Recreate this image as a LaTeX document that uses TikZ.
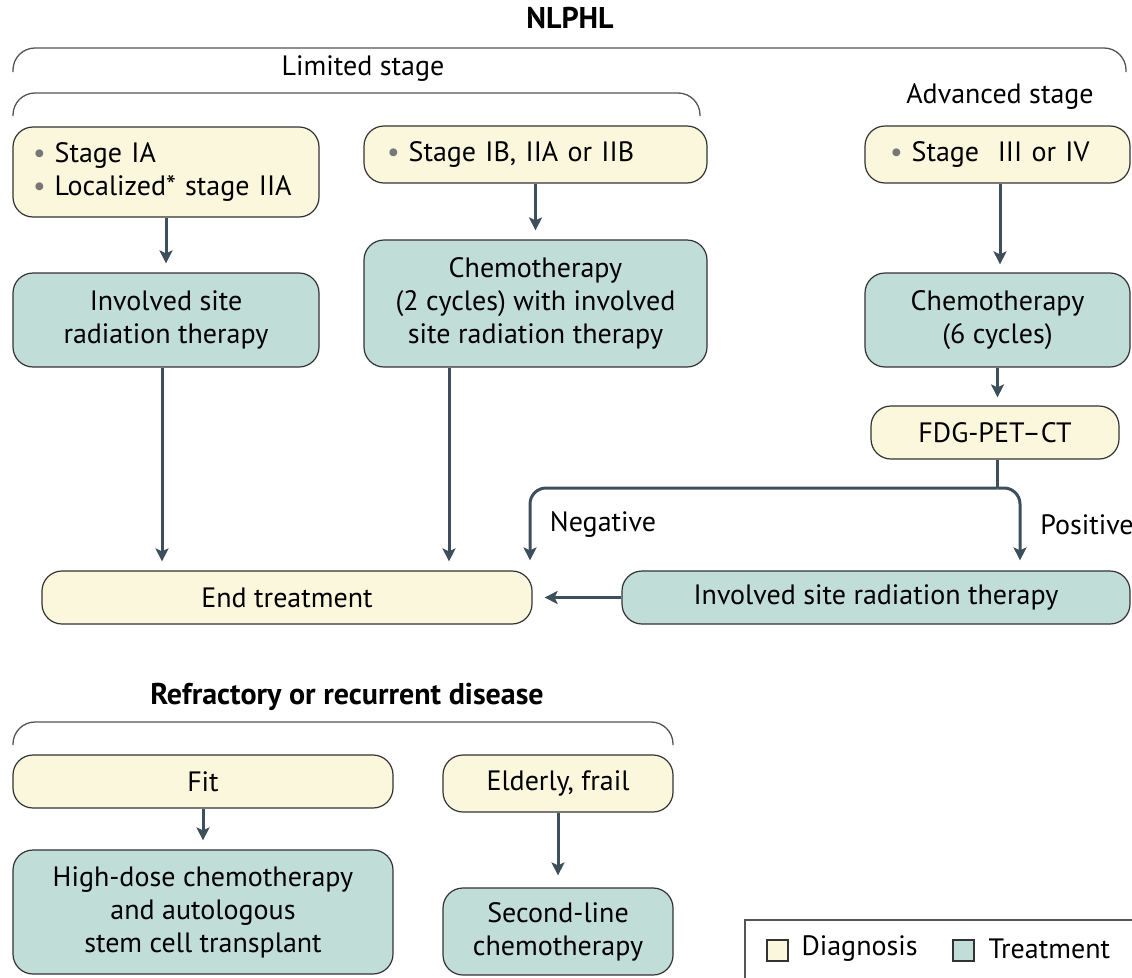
\documentclass[tikz,border=0pt]{standalone}
\usepackage{fontspec}
\setmainfont{PT Sans}
\usetikzlibrary{arrows.meta,calc}
\definecolor{diagfill}{HTML}{FAF7DC}
\definecolor{treatfill}{HTML}{C0DDD8}
\definecolor{boxline}{HTML}{333333}
\definecolor{arrowcol}{HTML}{3D4F5B}
\definecolor{bracecol}{HTML}{555555}
\definecolor{dotcol}{HTML}{777777}
\newcommand{\bul}{{\color{dotcol}\textbullet}\hspace{9pt}}
\begin{document}
\begin{tikzpicture}[x=1pt,y=-1pt,
  every node/.style={font=\fontsize{28}{33}\selectfont, text=black},
  box/.style={draw=boxline, line width=1.2pt, rounded corners=20pt, align=center, inner sep=0pt},
  diag/.style={box, fill=diagfill},
  treat/.style={box, fill=treatfill},
  conn/.style={draw=arrowcol, line width=3pt},
  arr/.style={conn, -{Stealth[length=13pt,width=13pt,inset=3pt]}},
  brace/.style={draw=bracecol, line width=1.3pt, rounded corners=22pt},
  heading/.style={font=\fontsize{30}{33}\selectfont\bfseries},
  legsq/.style={draw=boxline, line width=1.2pt, minimum size=21pt, inner sep=0pt}
]
\useasboundingbox (0,0) rectangle (1132,977);

% headings and braces
\node[heading] (title) at (570,18) {NLPHL};
\draw[brace] (13,72) -- (13,48) -- (1126,48) -- (1126,72);
\node (limited) at (363,69) {Limited stage};
\draw[brace] (13,116) -- (13,93) -- (700,93) -- (700,116);
\node (advanced) at (1000,97) {Advanced stage};

% diagnosis boxes, first row
\node[diag, minimum width=306pt, minimum height=90pt, text width=266pt, align=left] (sIA) at (166,172)
  {\bul Stage IA\\ \bul Localized* stage IIA};
\node[diag, minimum width=343pt, minimum height=57pt, text width=297pt, align=left] (sIB) at (535.5,154.5)
  {\bul Stage IB, IIA or IIB};
\node[diag, minimum width=265pt, minimum height=57pt, text width=215pt, align=left] (sIII) at (997.5,154.5)
  {\bul Stage\ \ III or IV};

% treatment boxes
\node[treat, minimum width=306pt, minimum height=94pt] (isrt1) at (166,320)
  {Involved site\\radiation therapy};
\node[treat, minimum width=343pt, minimum height=127pt] (chemo2) at (535.5,303.5)
  {Chemotherapy\\(2 cycles) with involved\\site radiation therapy};
\node[treat, minimum width=265pt, minimum height=94pt] (chemo6) at (997.5,320)
  {Chemotherapy\\(6 cycles)};
\node[diag, minimum width=248pt, minimum height=53pt] (pet) at (995,432.5) {FDG-PET–CT};
\node[diag, minimum width=490pt, minimum height=53pt] (endt) at (287,597.5) {End treatment};
\node[treat, minimum width=508pt, minimum height=53pt] (isrt2) at (876,597.5) {Involved site radiation therapy};

% connectors of the upper chart
\draw[arr] (sIA.south) -- ($(isrt1.north)+(0,-9)$);
\draw[arr] (sIB.south) -- ($(chemo2.north)+(0,-9)$);
\draw[arr] (sIII.south -| 1000,0) -- ($(chemo6.north -| 1000,0)+(0,-8)$);
\draw[arr] (isrt1.south -| 162,0) -- ($(endt.north -| 162,0)+(0,-9)$);
\draw[arr] (chemo2.south -| 449,0) -- ($(endt.north -| 449,0)+(0,-9)$);
\draw[arr] (chemo6.south) -- ($(pet.north -| chemo6.south)+(0,-8)$);
\coordinate (split) at (chemo6.south |- 0,488);
\coordinate (negtip) at ($(endt.north -| 530,0)+(0,-10)$);
\coordinate (postip) at ($(isrt2.north -| 1020,0)+(0,-10)$);
\draw[conn] (pet.south -| split) -- (split);
\draw[arr, rounded corners=16pt] (split) -| (negtip);
\draw[arr, rounded corners=16pt] (split) -| (postip);
\node (neg) at (603,525) {Negative};
\node (pos) at (1087,525) {Positive};
\draw[arr] (isrt2.west) -- ($(endt.east)+(12,0)$);

% refractory or recurrent disease
\node[heading] (refr) at (347,697) {Refractory or recurrent disease};
\draw[brace] (13,745) -- (13,722) -- (673,722) -- (673,745);
\node[diag, minimum width=380pt, minimum height=53pt] (fit) at (203,781.5) {Fit};
\node[diag, minimum width=230pt, minimum height=57pt] (frail) at (558,783.5) {Elderly, frail};
\node[treat, minimum width=380pt, minimum height=124pt] (hdct) at (203,912)
  {High-dose chemotherapy\\and autologous\\stem cell transplant};
\node[treat, minimum width=230pt, minimum height=87pt] (second) at (558,931.5)
  {Second-line\\chemotherapy};
\draw[arr] (fit.south) -- ($(hdct.north)+(0,-9)$);
\draw[arr] (frail.south) -- ($(second.north)+(0,-12)$);

% legend
\draw[draw=bracecol, line width=1.3pt] (745,1000) -- (745,920) -- (1150,920);
\node[legsq, fill=diagfill] (lgd) at (777.5,950.5) {};
\node[anchor=west] (lgdtxt) at (798,949) {Diagnosis};
\node[legsq, fill=treatfill] (lgt) at (963.5,950.5) {};
\node[anchor=west] (lgttxt) at (985,949) {Treatment};
\end{tikzpicture}
\end{document}
